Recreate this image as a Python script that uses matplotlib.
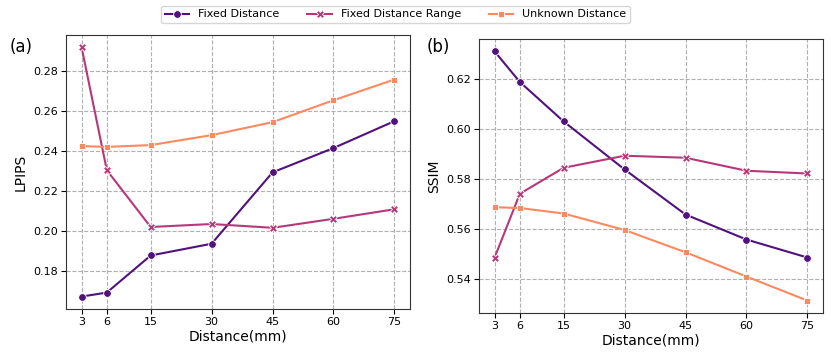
import numpy as np
import matplotlib.pyplot as plt

# Datos
distances = [3, 6, 15, 30, 45, 60, 75]
series_names = ['Fixed Distance', 'Fixed Distance Range', 'Unknown Distance']

lpips_fixed = [0.167, 0.169, 0.1876, 0.1935, 0.2293, 0.2415, 0.255]
lpips_range = [0.292, 0.2304, 0.2019, 0.2034, 0.2015, 0.2060, 0.2108]
lpips_unknown = [0.2425, 0.2421, 0.243, 0.248, 0.2545, 0.2655, 0.2759]

ssim_fixed = [0.6309, 0.6187, 0.6029, 0.5837, 0.5657, 0.5557, 0.5485]
ssim_range = [0.5485, 0.574, 0.5844, 0.5892, 0.5884, 0.5832, 0.5821]
ssim_unknown = [0.5686, 0.5683, 0.5661, 0.5595, 0.5506, 0.5409, 0.5313]

# Posiciones en el eje x (escala por tramos)
xpos = np.interp(distances, [3, 6, 15, 75], [-2.0, 4.2, 15, 75])

colors = ['#51127c', '#b73779', '#fc8961']
markers = ['o', 'X', 's']
msizes = [5.5, 5.5, 4.5]

fig = plt.figure(figsize=(8.31, 3.52), dpi=100)
ax1 = fig.add_axes([66 / 831, 43 / 352, 344 / 831, 274 / 352])
ax2 = fig.add_axes([479 / 831, 39 / 352, 344 / 831, 274 / 352])

panels = [
    (ax1, [lpips_fixed, lpips_range, lpips_unknown], 'LPIPS', '(a)', [0.18, 0.20, 0.22, 0.24, 0.26, 0.28]),
    (ax2, [ssim_fixed, ssim_range, ssim_unknown], 'SSIM', '(b)', [0.54, 0.56, 0.58, 0.60, 0.62]),
]

for ax, data, ylabel, tag, yticks in panels:
    for vals, name, c, m, ms in zip(data, series_names, colors, markers, msizes):
        ax.plot(xpos, vals, color=c, marker=m, markersize=ms, linewidth=1.5,
                markeredgecolor='white', markeredgewidth=0.6, label=name)
    ax.set_xticks(xpos)
    ax.set_xticklabels([str(d) for d in distances], fontsize=8)
    ax.set_yticks(yticks)
    ax.set_yticklabels([f'{v:.2f}' for v in yticks], fontsize=8)
    ax.set_xlabel('Distance(mm)', fontsize=10, labelpad=2)
    ax.set_ylabel(ylabel, fontsize=10)
    ax.grid(True, linestyle='--', color='#b0b0b0', linewidth=0.8)
    ax.set_axisbelow(True)
    ax.tick_params(length=3.5, pad=2)
    for s in ax.spines.values():
        s.set_color('#333333')

fig.text(10 / 831, 1 - 47 / 352, '(a)', fontsize=12, va='center', ha='left')
fig.text(427 / 831, 1 - 47 / 352, '(b)', fontsize=12, va='center', ha='left')

handles, labels = ax1.get_legend_handles_labels()
fig.legend(handles, labels, loc='upper center', bbox_to_anchor=(0.476, 1.0), ncol=3,
           fontsize=8, frameon=True, borderpad=0.35, handlelength=2.2, columnspacing=2.5)

fig.savefig('out.png', dpi=100)
